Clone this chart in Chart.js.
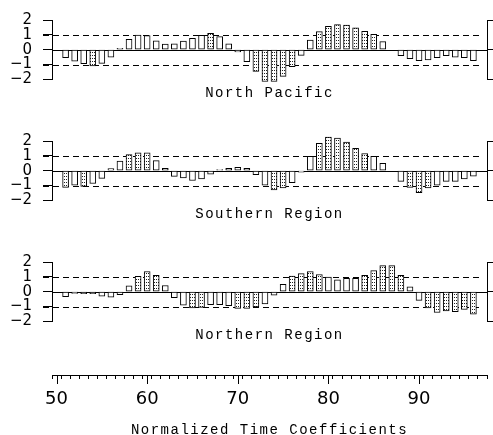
<!DOCTYPE html>
<html>
<head>
<meta charset="utf-8">
<script src="https://cdn.jsdelivr.net/npm/chart.js@4/dist/chart.umd.min.js"></script>
<style>
  body { margin: 0; background: #fff; }
  #wrap { position: relative; width: 493px; height: 435px; }
  #wrap canvas { position: absolute; left: 0; }
  .ttl { position: absolute; left: 52px; width: 435px; text-align: center;
         font: 14px "Liberation Mono", monospace; letter-spacing: 1.5px;
         line-height: 16px; color: #000; }
</style>
</head>
<body>
<div id="wrap">
  <canvas id="np" width="493" height="100" style="top:0px"></canvas>
  <canvas id="sr" width="493" height="100" style="top:121px"></canvas>
  <canvas id="nr" width="493" height="100" style="top:242px"></canvas>
  <canvas id="ax" width="493" height="75" style="top:360px"></canvas>
  <div class="ttl" style="top:85px">North Pacific</div>
  <div class="ttl" style="top:206px">Southern Region</div>
  <div class="ttl" style="top:327px">Northern Region</div>
  <div class="ttl" style="top:422px">Normalized Time Coefficients</div>
</div>
<script>
// years 1951..1996
const years = [51, 52, 53, 54, 55, 56, 57, 58, 59, 60, 61, 62, 63, 64, 65, 66, 67, 68, 69, 70,
  71, 72, 73, 74, 75, 76, 77, 78, 79, 80, 81, 82, 83, 84, 85, 86, 87, 88, 89, 90,
  91, 92, 93, 94, 95, 96];

const northPacific = [-0.54, -0.78, -0.94, -1.1, -0.92, -0.5, 0.1, 0.7, 0.98, 0.95,
  0.6, 0.38, 0.4, 0.58, 0.76, 0.96, 1.1, 0.88, 0.4, -0.15,
  -0.8, -1.46, -2.14, -2.14, -1.8, -1.14, -0.38, 0.64, 1.22, 1.58,
  1.7, 1.66, 1.48, 1.24, 1.04, 0.54, 0, -0.4, -0.6, -0.74,
  -0.68, -0.54, -0.4, -0.5, -0.54, -0.74];

const southernRegion = [-1.12, -0.98, -1.06, -0.86, -0.52, 0.14, 0.64, 1.08, 1.2, 1.2,
  0.68, 0.16, -0.38, -0.48, -0.66, -0.56, -0.24, 0.08, 0.16, 0.22,
  0.16, -0.26, -0.98, -1.3, -1.16, -0.8, -0.1, 0.96, 1.84, 2.26,
  2.2, 1.92, 1.5, 1.16, 0.96, 0.5, 0, -0.72, -1.12, -1.48,
  -1.16, -0.98, -0.72, -0.72, -0.56, -0.36];

const northernRegion = [-0.34, -0.12, -0.14, -0.14, -0.3, -0.36, -0.2, 0.4, 1.04, 1.36,
  1.1, 0.42, -0.4, -0.9, -1.1, -1.06, -0.88, -0.88, -0.94, -1.12,
  -1.12, -1.02, -0.82, -0.24, 0.5, 1.06, 1.22, 1.36, 1.16, 0.98,
  0.8, 0.9, 0.9, 1.1, 1.42, 1.76, 1.76, 1.1, 0.32, -0.58,
  -1.1, -1.4, -1.3, -1.34, -1.2, -1.52];

const refLevels = [-1, 1];
const xMinorTicks = [50, 51, 52, 53, 54, 55, 56, 57, 58, 59, 60, 61, 62, 63, 64, 65, 66, 67, 68, 69,
  70, 71, 72, 73, 74, 75, 76, 77, 78, 79, 80, 81, 82, 83, 84, 85, 86, 87, 88, 89,
  90, 91, 92, 93, 94, 95, 96, 97];
const xMajorTicks = [50, 60, 70, 80, 90];

// stipple fill for bars beyond +-1
const tile = document.createElement('canvas');
tile.width = 2; tile.height = 3;
const tg = tile.getContext('2d');
tg.fillStyle = '#fff'; tg.fillRect(0, 0, 2, 3);
tg.fillStyle = '#222'; tg.fillRect(0, 1, 1, 1);
const dots = tg.createPattern(tile, 'repeat');

const refLines = {
  id: 'refLines',
  beforeDatasetsDraw(chart) {
    const { ctx, chartArea: a, scales: { y } } = chart;
    ctx.save();
    ctx.strokeStyle = '#000';
    ctx.lineWidth = 1;
    ctx.setLineDash([6, 4]);
    refLevels.forEach(v => {
      const py = Math.round(y.getPixelForValue(v)) + 0.5;
      ctx.beginPath(); ctx.moveTo(a.left - 9, py); ctx.lineTo(a.right - 4, py); ctx.stroke();
    });
    ctx.setLineDash([]);
    const p0 = Math.round(y.getPixelForValue(0)) + 0.5;
    ctx.beginPath(); ctx.moveTo(a.left, p0); ctx.lineTo(a.right, p0); ctx.stroke();
    ctx.restore();
  }
};

function panel(id, values) {
  new Chart(document.getElementById(id), {
    type: 'bar',
    data: {
      datasets: [{
        data: years.map((yr, i) => ({ x: yr, y: values[i] })),
        backgroundColor: c => (c.raw && Math.abs(c.raw.y) > 1) ? dots : '#fff',
        borderColor: '#000',
        borderWidth: 1,
        borderSkipped: false,
        barThickness: 6,
        clip: false
      }]
    },
    options: {
      responsive: false,
      animation: false,
      layout: { padding: { top: 12.7, bottom: 20.6, left: 0, right: 0 } },
      plugins: { legend: { display: false }, tooltip: { enabled: false } },
      scales: {
        x: { type: 'linear', min: 49.5, max: 97.5, offset: false, display: false },
        y: {
          min: -2, max: 2, position: 'left',
          afterFit: s => { s.width = 52; },
          ticks: {
            stepSize: 1, padding: 11, color: '#000', autoSkip: false,
            font: { family: 'DejaVu Sans', size: 15 },
            callback: v => v < 0 ? '\u2212' + (-v) : String(v)
          },
          grid: { drawOnChartArea: false, tickLength: 9, color: '#000' },
          border: { color: '#000' }
        },
        yR: {
          axis: 'y', min: -2, max: 2, position: 'right',
          afterFit: s => { s.width = 6; },
          ticks: { display: false, stepSize: 1, autoSkip: false },
          grid: {
            drawOnChartArea: false, tickLength: 6,
            color: c => (c.tick && c.tick.value % 2 === 0) ? '#000' : 'rgba(0,0,0,0)'
          },
          border: { color: '#000' }
        }
      }
    },
    plugins: [refLines]
  });
}

panel('np', northPacific);
panel('sr', southernRegion);
panel('nr', northernRegion);

const majorTicks = {
  id: 'majorTicks',
  afterDraw(chart) {
    const { ctx, scales: { x } } = chart;
    ctx.save();
    ctx.strokeStyle = '#000';
    ctx.lineWidth = 1;
    xMajorTicks.forEach(v => {
      const px = Math.round(x.getPixelForValue(v)) + 0.5;
      ctx.beginPath(); ctx.moveTo(px, x.top); ctx.lineTo(px, x.top + 9); ctx.stroke();
    });
    ctx.restore();
  }
};

new Chart(document.getElementById('ax'), {
  type: 'bar',
  data: { datasets: [] },
  options: {
    responsive: false,
    animation: false,
    layout: { padding: { top: 5, bottom: 0, left: 52, right: 6 } },
    plugins: { legend: { display: false }, tooltip: { enabled: false } },
    scales: {
      x: {
        type: 'linear', min: 49.5, max: 97.5, position: 'bottom', offset: false,
        afterFit: s => { s.height = 60; },
        afterBuildTicks: s => { s.ticks = xMinorTicks.map(v => ({ value: v })); },
        ticks: {
          autoSkip: false, maxRotation: 0, padding: 10, color: '#000',
          font: { family: 'DejaVu Sans', size: 18 },
          callback: v => xMajorTicks.includes(v) ? String(v) : ''
        },
        grid: { drawOnChartArea: false, tickLength: 4, color: '#000' },
        border: { color: '#000' }
      },
      y: { display: false }
    }
  },
  plugins: [majorTicks]
});
</script>
</body>
</html>
